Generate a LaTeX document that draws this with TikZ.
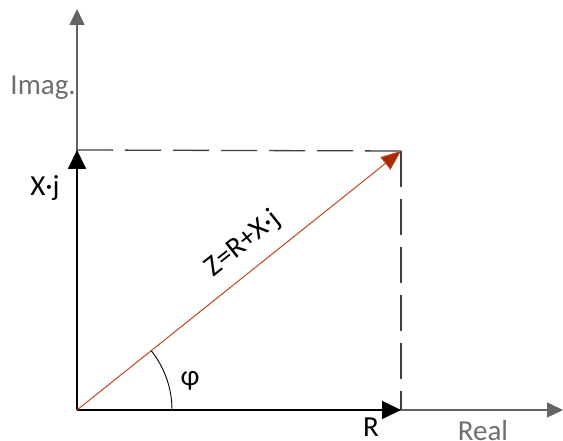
\documentclass[tikz,border=0pt]{standalone}
\usepackage{fontspec}
\setmainfont{Carlito}
\usetikzlibrary{arrows.meta}
\usetikzlibrary{positioning}
\definecolor{axisgray}{RGB}{100,100,100}
\definecolor{textgray}{RGB}{110,110,110}
\definecolor{vecred}{RGB}{190,70,30}
\definecolor{tipred}{RGB}{165,45,5}
\begin{document}
\begin{tikzpicture}[
  x=1pt,y=1pt,
  every node/.style={font=\fontsize{29}{34}\selectfont,inner sep=0pt},
  axisline/.style={draw=axisgray,line width=1.4pt,-{Triangle[length=16pt,width=15pt]}},
  partline/.style={draw=black,line width=1.8pt,-{Triangle[length=19pt,width=18pt]}},
  zline/.style={draw=vecred,line width=1pt,-{Triangle[length=20pt,width=16pt,fill=tipred]}},
  guide/.style={draw=black!75,line width=1.3pt,dash pattern=on 36pt off 12pt},
]
\useasboundingbox (0,0) rectangle (563,441);
\coordinate (O) at (77,31);
\coordinate (imagend) at (77,432);
\coordinate (realend) at (563,31);
\coordinate (xtip) at (77,291);
\coordinate (rtip) at (401,31);
\coordinate (ztip) at (401,290);
% axes
\draw[axisline] (O) -- (imagend);
\draw[axisline] (O) -- (realend);
% dashed projections
\draw[guide] (xtip) -- (ztip);
\draw[guide] (ztip) -- (rtip);
% components
\draw[partline] (O) -- (xtip);
\draw[partline] (O) -- (rtip);
\draw[zline] (O) -- (ztip);
% angle
\draw[line width=0.9pt] ([xshift=95pt]O) arc[start angle=0,end angle=38.6,radius=95pt];
\node[text=textgray,anchor=east] (imag) at (76,353) {Imag.};
\node[text=textgray] (real) at (483,10) {Real};
\node (xj) at (45,253) {X·j};
\node (r) at (371,14) {R};
\node (phi) at (190,60) {φ};
\node[rotate=38.6] (z) at (243,197) {Z=R+X·j};
\end{tikzpicture}
\end{document}
